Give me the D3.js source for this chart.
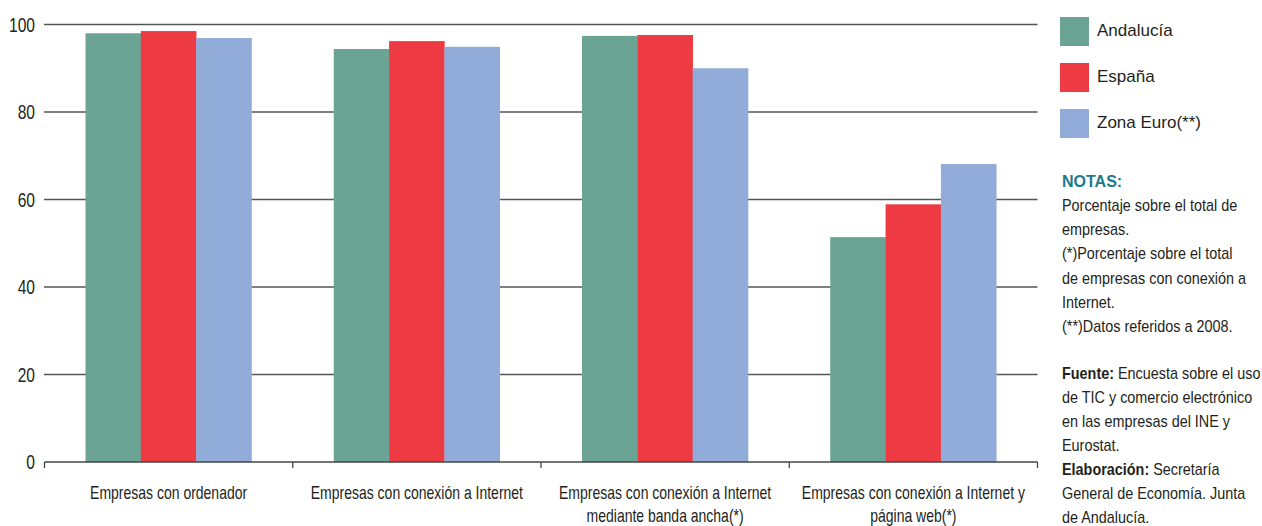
<!DOCTYPE html>
<html><head><meta charset="utf-8">
<script src="https://cdn.jsdelivr.net/npm/d3@7"></script>
<style>
body{margin:0;background:#fff;}
svg{display:block;}
text{font-family:"Liberation Sans",Arial,sans-serif;fill:#231f20;}
</style></head><body>
<svg id="c" width="1262" height="526"></svg>
<script>
const categories = [
  ["Empresas con ordenador"],
  ["Empresas con conexión a Internet"],
  ["Empresas con conexión a Internet", "mediante banda ancha(*)"],
  ["Empresas con conexión a Internet y", "página web(*)"]
];
const seriesNames = ["Andalucía", "España", "Zona Euro(**)"];
const andalucia = [98.0, 94.4, 97.4, 51.4];
const espana = [98.5, 96.2, 97.6, 58.9];
const zonaEuro = [96.9, 94.9, 90.0, 68.1];
const yTicks = [0, 20, 40, 60, 80, 100];
const colors = ["#6ba494", "#ee3a43", "#91acd9"];
const notesTitle = "NOTAS:";
const notes = ["Porcentaje sobre el total de", "empresas.", "(*)Porcentaje sobre el total", "de empresas con conexión a", "Internet.", "(**)Datos referidos a 2008."];
const sourceLines = [
  [["Fuente: ", true], ["Encuesta sobre el uso", false]],
  [["de TIC y comercio electrónico", false]],
  [["en las empresas del INE y", false]],
  [["Eurostat.", false]],
  [["Elaboración: ", true], ["Secretaría", false]],
  [["General de Economía. Junta", false]],
  [["de Andalucía.", false]]
];

const values = [andalucia, espana, zonaEuro];
const svg = d3.select("#c");
const x0 = d3.scaleBand().domain(d3.range(categories.length)).range([44.5, 1037.5]);
const x1 = d3.scaleBand().domain(d3.range(3)).range([41, 207]);
const y = d3.scaleLinear().domain([0, 100]).range([462, 24.5]);

// helper: condensed text
function ctext(sel, x, yy, size, sx, anchor) {
  return sel.append("text")
    .attr("transform", `translate(${x},${yy}) scale(${sx},1)`)
    .attr("text-anchor", anchor || "start")
    .style("font-size", size + "px");
}

// gridlines
svg.append("g").selectAll("line").data(yTicks.filter(d => d > 0)).join("line")
  .attr("x1", 44).attr("x2", 1037.5)
  .attr("y1", d => y(d)).attr("y2", d => y(d))
  .attr("stroke", "#555").attr("stroke-width", 1.6);

// y labels
const yl = svg.append("g");
yTicks.forEach(d => {
  ctext(yl, 35, y(d) + 7, 19.5, 0.8, "end").text(d);
});

// bars
const g = svg.append("g");
categories.forEach((c, i) => {
  values.forEach((s, j) => {
    g.append("rect")
      .attr("x", x0(i) + x1(j)).attr("width", x1.bandwidth() + 0.3)
      .attr("y", y(s[i])).attr("height", y(0) - y(s[i]))
      .attr("fill", colors[j]);
  });
});

// x axis
const ax = svg.append("g");
ax.append("line").attr("x1", 44.5).attr("x2", 1037.5).attr("y1", y(0)).attr("y2", y(0)).attr("stroke", "#444").attr("stroke-width", 1.3);
const tickPos = d3.range(categories.length + 1).map(i => i < categories.length ? x0(i) : x0(i - 1) + x0.bandwidth());
ax.selectAll("line.t").data(tickPos).join("line").attr("class", "t")
  .attr("x1", d => d).attr("x2", d => d).attr("y1", y(0)).attr("y2", y(0) + 6)
  .attr("stroke", "#444").attr("stroke-width", 1.3);
categories.forEach((c, i) => {
  c.forEach((line, k) => ctext(ax, x0(i) + x0.bandwidth() / 2, 499 + k * 23, 17.5, 0.8, "middle").text(line));
});

// legend
const lg = svg.append("g");
seriesNames.forEach((n, j) => {
  lg.append("rect").attr("x", 1060).attr("y", 17 + j * 46).attr("width", 29).attr("height", 29).attr("fill", colors[j]);
  lg.append("text").attr("x", 1097).attr("y", 36 + j * 46).style("font-size", "17px").text(n);
});

// notes
svg.append("text").attr("x", 1062).attr("y", 187).style("font-size", "16px").style("font-weight", "bold")
  .style("fill", "#1b7b8c").text(notesTitle);
notes.forEach((l, k) => {
  ctext(svg, 1062, 211 + k * 24.2, 16, 0.9).text(l);
});
sourceLines.forEach((parts, k) => {
  const t = ctext(svg, 1062, 379 + k * 24, 16, 0.9);
  parts.forEach(([s, b]) => t.append("tspan").style("font-weight", b ? "bold" : "normal").text(s));
});
</script>
</body></html>
